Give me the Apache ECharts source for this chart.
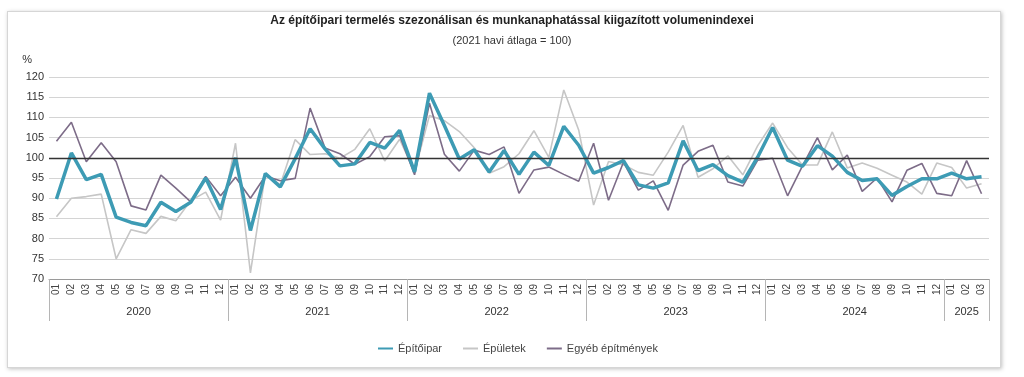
<!DOCTYPE html>
<html>
<head>
<meta charset="utf-8">
<script src="https://cdn.jsdelivr.net/npm/echarts@6/dist/echarts.min.js"></script>
<style>
	html, body { margin: 0; padding: 0; background: #fff; }
	#card {
		position: absolute; left: 7px; top: 11px; width: 992px; height: 355px;
		border: 1px solid #d6d6d6; box-shadow: 1px 1px 4px rgba(0, 0, 0, 0.25); background: #fff;
	}
	#chart { position: absolute; left: 0; top: 0; width: 1024px; height: 377px; }
</style>
</head>
<body>
<div id="card"></div>
<div id="chart"></div>
<script>
// havi adatok 2020/01 - 2025/03
var years = ["2020", "2021", "2022", "2023", "2024", "2025"]
var months = []
years.forEach(function (y) {
	var n = y === "2025" ? 3 : 12
	for (var m = 1; m <= n; m++) months.push(m < 10 ? "0" + m : "" + m)
})

var epitoipar = [
	89.8, 101.2, 94.6, 95.9, 85.3, 84.0, 83.2, 89.0, 86.7, 89.0, 95.0, 87.2,
	100.0, 82.0, 96.1, 92.8, 99.8, 107.2, 102.2, 98.0, 98.5, 103.8, 102.4, 106.8,
	96.5, 116.0, 108.0, 99.7, 102.0, 96.5, 101.8, 95.9, 101.4, 98.1, 107.8, 103.1,
	96.2, 97.6, 99.3, 93.3, 92.5, 93.8, 104.2, 96.8, 98.3, 95.6, 94.0, 100.2,
	107.5, 99.4, 97.9, 103.0, 100.4, 96.4, 94.4, 94.8, 90.7, 92.9, 94.8, 94.8,
	96.2, 94.8, 95.3
]
var epuletek = [
	85.4, 90.0, 90.4, 91.0, 75.0, 82.2, 81.3, 85.5, 84.4, 89.4, 91.5, 84.6,
	103.6, 71.5, 96.1, 93.3, 104.5, 100.8, 101.0, 99.9, 102.1, 107.2, 99.2, 104.6,
	96.5, 110.5, 109.2, 106.5, 102.5, 96.2, 97.8, 101.0, 106.7, 100.1, 116.8, 106.9,
	88.3, 99.1, 98.3, 96.4, 95.7, 101.4, 108.0, 95.2, 97.3, 100.5, 95.8, 103.0,
	108.6, 102.5, 98.2, 98.2, 106.4, 97.5, 98.7, 97.4, 95.7, 94.0, 91.0, 98.7,
	97.6, 92.5, 93.6
]
var egyeb = [
	104.1, 108.8, 99.0, 103.7, 99.0, 88.1, 87.1, 95.7, 92.5, 89.1, 95.4, 90.6,
	95.2, 90.0, 95.5, 94.3, 94.9, 112.3, 102.4, 101.0, 98.4, 100.3, 105.2, 105.5,
	95.8, 113.5, 100.9, 96.7, 101.9, 100.8, 102.7, 91.2, 97.0, 97.7, 95.9, 94.2,
	103.6, 89.5, 98.9, 92.0, 94.3, 87.0, 98.2, 101.6, 103.1, 94.0, 93.0, 99.4,
	99.9, 90.6, 98.0, 105.0, 97.0, 100.7, 91.7, 95.0, 89.1, 96.9, 98.6, 91.2,
	90.6, 99.3, 91.1
]
// évhatárok és évcímkék helye (hónap-index)
var yearBounds = [0, 12, 24, 36, 48, 60, 63]
var yearLabelPos = [6, 18, 30, 42, 54, 61.5]

var font = "Liberation Sans, Arial, sans-serif"

var option = {
	animation: false,
	textStyle: { fontFamily: font },
	title: {
		text: "Az építőipari termelés szezonálisan és munkanaphatással kiigazított volumenindexei",
		subtext: "(2021 havi átlaga = 100)",
		left: "center",
		top: 10,
		itemGap: 8,
		textStyle: { fontSize: 12, fontWeight: "bold", color: "#222", fontFamily: font },
		subtextStyle: { fontSize: 11, color: "#333", fontFamily: font }
	},
	legend: {
		left: 372,
		top: 338,
		itemWidth: 15,
		itemHeight: 8,
		itemGap: 20,
		itemStyle: { opacity: 0 },
		textStyle: { fontSize: 11, color: "#444", fontFamily: font },
		data: ["Építőipar", "Épületek", "Egyéb építmények"]
	},
	grid: { left: 49, right: 35, top: 77, bottom: 98 },
	xAxis: [
		{
			type: "category",
			data: months,
			boundaryGap: true,
			axisLine: { lineStyle: { color: "#9a9a9a", width: 1 } },
			axisTick: { interval: 0, length: 22, lineStyle: { color: "#b5b5b5" } },
			axisLabel: { interval: 0, rotate: 90, fontSize: 10, color: "#444", margin: 5 }
		},
		{
			type: "value",
			position: "bottom",
			min: 0,
			max: 63,
			axisLine: { show: false },
			splitLine: { show: false },
			axisTick: { show: true, customValues: yearBounds, length: 42, lineStyle: { color: "#b5b5b5" } },
			axisLabel: {
				customValues: yearLabelPos,
				margin: 27,
				fontSize: 11,
				color: "#333",
				formatter: function (v) { return years[Math.floor(v / 12)] }
			}
		}
	],
	yAxis: {
		type: "value",
		min: 70,
		max: 120,
		interval: 5,
		name: "%",
		nameLocation: "end",
		nameGap: 12,
		nameTextStyle: { align: "right", padding: [0, 17, 0, 0], fontSize: 11, color: "#333" },
		axisLine: { show: false },
		axisTick: { show: false },
		axisLabel: { fontSize: 11, color: "#333", margin: 5 },
		splitLine: { lineStyle: { color: "#d4d4d4", width: 1.2 } }
	},
	series: [
		{
			name: "Épületek",
			type: "line",
			data: epuletek,
			showSymbol: false,
			symbol: "none",
			color: "#c6c6c6",
			lineStyle: { width: 1.6, color: "#c6c6c6" },
			z: 2
		},
		{
			name: "Egyéb építmények",
			type: "line",
			data: egyeb,
			showSymbol: false,
			symbol: "none",
			color: "#7d6c88",
			lineStyle: { width: 1.6, color: "#7d6c88" },
			z: 3
		},
		{
			name: "Építőipar",
			type: "line",
			data: epitoipar,
			showSymbol: false,
			symbol: "none",
			color: "#3d9bb4",
			lineStyle: { width: 3.5, color: "#3d9bb4" },
			z: 4,
			markLine: {
				silent: true,
				symbol: "none",
				label: { show: false },
				lineStyle: { color: "#333", width: 1.3, type: "solid" },
				data: [{ yAxis: 100 }]
			}
		}
	]
}

var myChart = echarts.init(document.getElementById("chart"))
myChart.setOption(option)
</script>
</body>
</html>
